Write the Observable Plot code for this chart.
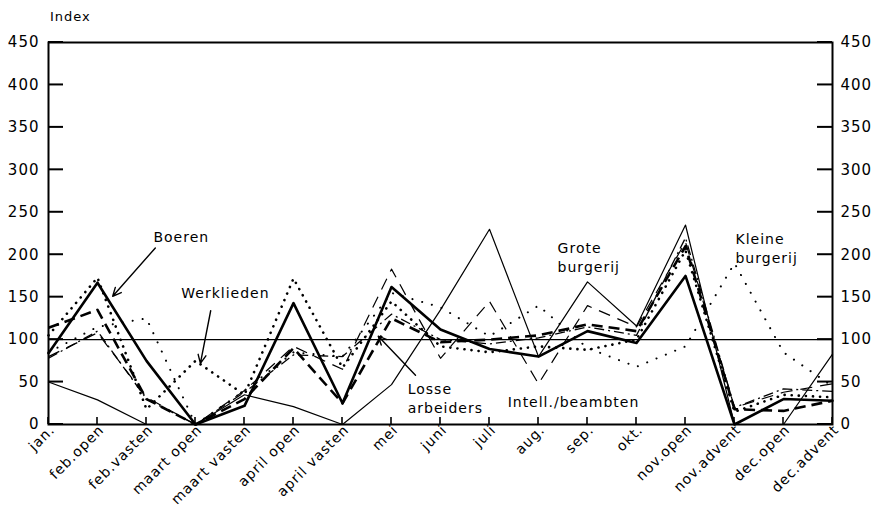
<!DOCTYPE html>
<html>
<head>
<meta charset="utf-8">
<script src="https://cdn.jsdelivr.net/npm/d3@7"></script>
<script src="https://cdn.jsdelivr.net/npm/@observablehq/plot@0.6"></script>
<style>
  html, body { margin: 0; padding: 0; background: #fff; }
  #title { height: 30px; font-family: "DejaVu Sans", sans-serif; font-size: 13px; letter-spacing: 1px;
           padding-left: 50px; line-height: 34px; box-sizing: border-box; color: #000; }
</style>
</head>
<body>
<div id="title">Index</div>
<div id="chart"></div>
<script>
// ---- data ----
const categories = ["jan.","feb.open","feb.vasten","maart open","maart vasten","april open","april vasten",
  "mei","juni","juli","aug.","sep.","okt.","nov.open","nov.advent","dec.open","dec.advent"];
const yTicks = [0,50,100,150,200,250,300,350,400,450];

const boeren         = [84,167,75,0,22,143,25,162,112,89,80,110,96,175,0,30,28];
const werklieden     = [105,173,18,75,35,172,67,145,92,85,92,88,100,205,15,35,32];
const losseArbeiders = [114,135,30,0,30,90,25,125,97,100,105,118,110,210,18,16,28];
const intellBeambten = [80,108,32,0,40,92,65,183,78,145,48,140,115,215,20,38,48];
const groteBurgerij  = [50,29,0,0,35,21,0,47,135,230,80,168,116,235,0,0,83];
const kleineBurgerij = [85,115,125,0,40,85,80,155,138,104,140,90,68,92,190,85,45];
const overig         = [78,110,30,0,38,82,80,130,100,95,102,115,105,220,20,42,39];

// annotation labels (in data units: category index, index value)
const centeredTexts = ["Boeren","Werklieden"];
const centeredX     = [2.71, 3.61];
const centeredY     = [220, 154];
const startTexts    = ["Losse\narbeiders","Intell./beambten","Grote\nburgerij","Kleine\nburgerij"];
const startX        = [7.33, 9.37, 10.39, 14.02];
const startY        = [32, 28, 198, 209];
const arrowFrom     = [[2.18,208],[3.31,134],[7.49,58]];
const arrowTo       = [[1.31,151],[3.10,72],[6.73,104]];

// ---- build ----
const W = 883, H = 491, ML = 48, MR = 51, MT = 12, MB = 97;
const nX = categories.length - 1, yMax = 450;

const seriesDefs = [
  {name:"Grote burgerij",  values: groteBurgerij,  width:1.2, dash:null,        cap:"round"},
  {name:"Kleine burgerij", values: kleineBurgerij, width:2.0, dash:"0.1,10",    cap:"round"},
  {name:"Intell./beambten",values: intellBeambten, width:1.2, dash:"12,8",      cap:"butt"},
  {name:"Overig",          values: overig,         width:1.3, dash:"10,4,2,4",  cap:"butt"},
  {name:"Werklieden",      values: werklieden,     width:2.6, dash:"0.1,7",     cap:"round"},
  {name:"Losse arbeiders", values: losseArbeiders, width:2.6, dash:"11,6",      cap:"butt"},
  {name:"Boeren",          values: boeren,         width:2.6, dash:null,        cap:"round"}
];
const rows = s => s.values.map((v,i) => ({i, v, name: s.name}));
const centered = centeredTexts.map((t,k) => ({text:t, x:centeredX[k], y:centeredY[k]}));
const started  = startTexts.map((t,k) => ({text:t, x:startX[k], y:startY[k]}));
const arrows = arrowFrom.map((f,k) => ({x1:f[0], y1:f[1], x2:arrowTo[k][0], y2:arrowTo[k][1]}));
const idx = d3.range(categories.length);

const lineMarks = seriesDefs.map(s => Plot.line(rows(s), {
  x:"i", y:"v", stroke:"black", strokeWidth:s.width,
  strokeDasharray: s.dash ?? undefined, strokeLinecap:s.cap, strokeLinejoin:"round"
}));

const chart = Plot.plot({
  width: W, height: H,
  marginLeft: ML, marginRight: MR, marginTop: MT, marginBottom: MB,
  style: {fontFamily: "DejaVu Sans, sans-serif", fontSize: "15px", letterSpacing: "1px", background: "white", color: "black", overflow: "visible"},
  x: {type: "linear", domain: [0, nX]},
  y: {domain: [0, yMax]},
  marks: [
    Plot.ruleY([100], {stroke: "black", strokeWidth: 1.3}),
    ...lineMarks,
    Plot.frame({stroke: "black", strokeWidth: 2}),
    Plot.axisY({anchor: "left", ticks: yTicks, tickSize: 0, tickPadding: 9, label: null}),
    Plot.axisY({anchor: "right", ticks: yTicks, tickSize: 0, tickPadding: 8, label: null}),
    Plot.axisX({ticks: idx, tickSize: 0, tickPadding: 3, tickRotate: -45, tickFormat: i => categories[i], label: null, fontSize: 14, dx: 4}),
    Plot.arrow(arrows, {x1:"x1", y1:"y1", x2:"x2", y2:"y2", stroke:"black", strokeWidth:1.4, headLength:10, headAngle:50}),
    Plot.text(centered, {x:"x", y:"y", text:"text", textAnchor:"middle", lineAnchor:"middle", fontSize:14, fill:"black"}),
    Plot.text(started, {x:"x", y:"y", text:"text", textAnchor:"start", lineAnchor:"middle", lineHeight:1.35, fontSize:14, fill:"black"})
  ]
});

// inward tick marks, positioned through Plot's own scales
const sx = chart.scale("x"), sy = chart.scale("y");
const xl = sx.apply(0), xr = sx.apply(nX), yb = sy.apply(0);
const g = d3.select(chart).append("g").attr("stroke", "black").attr("fill", "none");
yTicks.forEach(v => {
  const y = sy.apply(v);
  g.append("line").attr("x1", xl).attr("x2", xl + 15).attr("y1", y).attr("y2", y).attr("stroke-width", 2);
  g.append("line").attr("x1", xr - 15).attr("x2", xr).attr("y1", y).attr("y2", y).attr("stroke-width", 2);
});
idx.forEach(i => {
  const x = sx.apply(i);
  g.append("line").attr("x1", x).attr("x2", x).attr("y1", yb).attr("y2", yb - 7).attr("stroke-width", 1.6);
});

document.getElementById("chart").appendChild(chart);
</script>
</body>
</html>
